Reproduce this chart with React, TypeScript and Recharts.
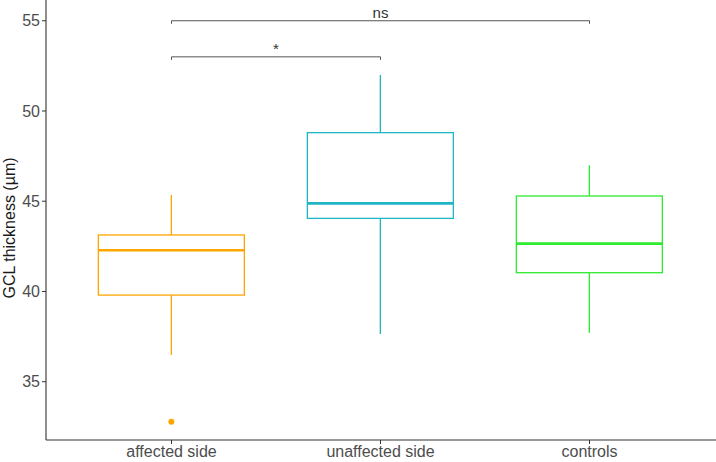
import React from 'react';
import { ComposedChart, Bar, XAxis, YAxis, ReferenceLine, Label } from 'recharts';

const groups = ['affected side', 'unaffected side', 'controls'];
const lowerWhiskers = [36.48, 37.64, 37.71];
const q1Values = [39.8, 44.05, 41.04];
const medians = [42.28, 44.88, 42.65];
const q3Values = [43.13, 48.8, 45.29];
const upperWhiskers = [45.34, 52.0, 47.0];
const outlierValues = [[32.78], [], []];
const yTicks = [35, 40, 45, 50, 55];
const yDomain = [31.77, 56.15];
const comparisonFrom = ['affected side', 'affected side'];
const comparisonTo = ['unaffected side', 'controls'];
const comparisonY = [53, 55];
const comparisonLabels = ['*', 'ns'];
const tipLength = 0.17;

const colors = ['#FFA500', '#1FB5C4', '#2EEB2E'];

const data = groups.map((g, i) => ({
  group: g,
  lo: lowerWhiskers[i],
  q1: q1Values[i],
  med: medians[i],
  q3: q3Values[i],
  hi: upperWhiskers[i],
  out: outlierValues[i],
}));

const BoxShape = (props: any) => {
  const { x, y, width, height, payload, index } = props;
  const top = Math.min(y, y + height);
  const h = Math.abs(height);
  const ppu = h / (payload.q3 - payload.q1);
  const toY = (v: number) => top + (payload.q3 - v) * ppu;
  const cx = x + width / 2;
  const c = colors[index % colors.length];
  return (
    <g>
      <line x1={cx} x2={cx} y1={toY(payload.hi)} y2={top} stroke={c} strokeWidth={1.3} />
      <line x1={cx} x2={cx} y1={top + h} y2={toY(payload.lo)} stroke={c} strokeWidth={1.3} />
      <rect x={x} y={top} width={width} height={h} fill="#ffffff" stroke={c} strokeWidth={1.3} />
      <line x1={x} x2={x + width} y1={toY(payload.med)} y2={toY(payload.med)} stroke={c} strokeWidth={2.6} />
      {payload.out.map((v: number, k: number) => (
        <circle key={k} cx={cx} cy={toY(v)} r={3} fill={c} />
      ))}
    </g>
  );
};

const YTitle = (props: any) => {
  const vb = props.viewBox || { x: 0, y: 0, width: 46, height: 440 };
  const cx = vb.x + 15;
  const cy = vb.y + vb.height / 2 + 8;
  return (
    <text
      x={cx}
      y={cy}
      transform={`rotate(-90, ${cx}, ${cy})`}
      textAnchor="middle"
      fill="#1a1a1a"
      fontSize={16}
    >
      GCL thickness (µm)
    </text>
  );
};

export default function App() {
  return (
    <div style={{ position: 'absolute', left: 0, top: 0, fontFamily: '"Liberation Sans", Arial, sans-serif', background: '#fff' }}>
      <ComposedChart
        width={716}
        height={462}
        data={data}
        margin={{ top: 0, right: 0, bottom: 0, left: 0 }}
        barCategoryGap="15%"
      >
        <XAxis
          dataKey="group"
          type="category"
          height={22}
          padding={{ left: 21, right: 22 }}
          tickSize={4}
          tickLine={{ stroke: '#333333' }}
          axisLine={{ stroke: '#333333', strokeWidth: 1.1 }}
          tick={{ fill: '#4D4D4D', fontSize: 16 }}
          interval={0}
        />
        <YAxis
          type="number"
          domain={yDomain}
          ticks={yTicks}
          allowDataOverflow
          width={46}
          tickSize={4}
          tickLine={{ stroke: '#333333' }}
          axisLine={{ stroke: '#333333', strokeWidth: 1.1 }}
          tick={{ fill: '#4D4D4D', fontSize: 16 }}
        >
          <Label content={<YTitle />} />
        </YAxis>
        <Bar
          dataKey={(d: any) => [d.q1, d.q3]}
          shape={<BoxShape />}
          isAnimationActive={false}
        />
        {comparisonY.map((yv, i) => (
          <ReferenceLine
            key={`h${i}`}
            segment={[{ x: comparisonFrom[i], y: yv }, { x: comparisonTo[i], y: yv }]}
            stroke="#555555"
            strokeWidth={1}
            label={{ value: comparisonLabels[i], position: 'top', offset: 3, fill: '#333333', fontSize: 15 }}
          />
        ))}
        {comparisonY.map((yv, i) => (
          <ReferenceLine
            key={`l${i}`}
            segment={[{ x: comparisonFrom[i], y: yv }, { x: comparisonFrom[i], y: yv - tipLength }]}
            stroke="#555555"
            strokeWidth={1}
          />
        ))}
        {comparisonY.map((yv, i) => (
          <ReferenceLine
            key={`r${i}`}
            segment={[{ x: comparisonTo[i], y: yv }, { x: comparisonTo[i], y: yv - tipLength }]}
            stroke="#555555"
            strokeWidth={1}
          />
        ))}
      </ComposedChart>
    </div>
  );
}
